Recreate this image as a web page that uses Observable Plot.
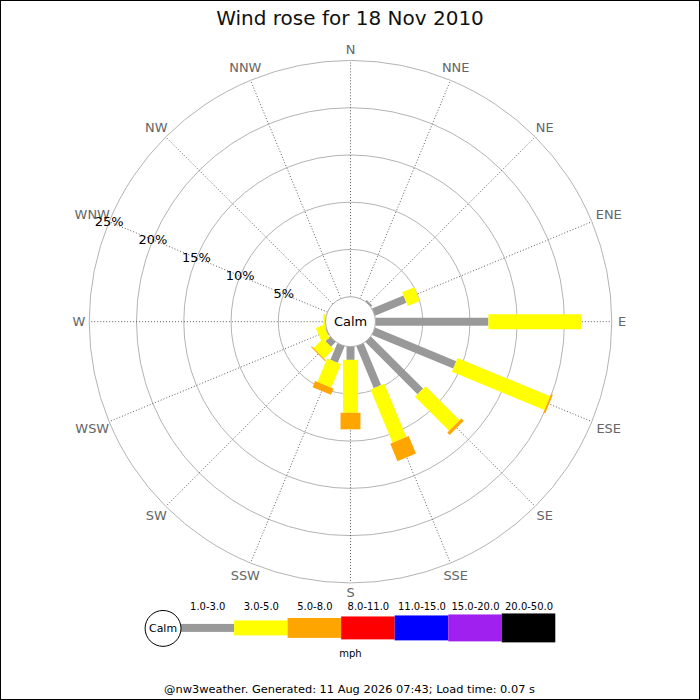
<!DOCTYPE html>
<html>
<head>
<meta charset="utf-8">
<script src="https://cdn.jsdelivr.net/npm/d3@7"></script>
<script src="https://cdn.jsdelivr.net/npm/@observablehq/plot@0.6"></script>
<style>
  body { margin: 0; background: #fff; font-family: "DejaVu Sans", sans-serif; }
  #frame { width: 700px; height: 700px; box-sizing: border-box; border: 1px solid #000; overflow: hidden; }
  #title { height: 33px; line-height: 34px; text-align: center; font-size: 20px; color: #111; }
  svg { display: block; }
</style>
</head>
<body>
<div id="frame">
  <div id="title">Wind rose for 18 Nov 2010</div>
  <div id="chart"></div>
  <div id="legend"></div>
</div>
<script>
// directions, clockwise from north
const dirs = ["N","NNE","NE","ENE","E","ESE","SE","SSE","S","SSW","SW","WSW","W","WNW","NW","NNW"];

// speed bins (mph) and their colours
const bins = ["1.0-3.0","3.0-5.0","5.0-8.0","8.0-11.0","11.0-15.0","15.0-20.0","20.0-50.0"];
const binColors = ["#999999","#ffff00","#ffa500","#ff0000","#0000ff","#a020f0","#000000"];

// % of time per direction, one array per speed bin
const s1to3   = [0, 0, 0.2, 3.6, 11.95, 9.3, 7.8, 4.8, 1.4, 1.9, 0.7, 0.1, 0, 0, 0, 0];
const s3to5   = [0, 0, 0, 1.4, 9.85, 10.6, 5.1, 6.1, 5.6, 2.7, 1.4, 0.9, 0.25, 0, 0, 0];
const s5to8   = [0, 0, 0, 0, 0, 0.2, 0.35, 2.0, 1.75, 0.7, 0.12, 0, 0, 0, 0, 0];
const s8to11  = [0, 0, 0, 0, 0, 0, 0, 0, 0, 0, 0, 0, 0, 0, 0, 0];
const s11to15 = [0, 0, 0, 0, 0, 0, 0, 0, 0, 0, 0, 0, 0, 0, 0, 0];
const s15to20 = [0, 0, 0, 0, 0, 0, 0, 0, 0, 0, 0, 0, 0, 0, 0, 0];
const s20to50 = [0, 0, 0, 0, 0, 0, 0, 0, 0, 0, 0, 0, 0, 0, 0, 0];

// ring labels
const rings = [5, 10, 15, 20, 25];

const series = [s1to3, s3to5, s5to8, s8to11, s11to15, s15to20, s20to50];
const barWidths = [8, 15, 20, 23, 25, 27, 29];

// geometry: pixels per percent, calm circle radius in px
const k = 9.48;
const calmPx = 25;
const C = calmPx / k; // calm radius in % units
const W = 700, H = 568, cy = 288;

const ang = (i) => (i * 22.5) * Math.PI / 180;
const px = (i, r) => r * Math.sin(ang(i));
const py = (i, r) => r * Math.cos(ang(i));
const labelR = (d, i) => C + 26.1 + (d.length - 1) * 0.45 * Math.abs(Math.sin(ang(i)));

// stacked segments
const segs = [];
dirs.forEach((d, i) => {
  let cum = 0;
  series.forEach((s, b) => {
    const v = s[i];
    if (v > 0) segs.push({dir: i, bin: b, r0: C + cum, r1: C + cum + v});
    cum += v;
  });
});

const ringMarks = rings.map((v) =>
  Plot.dot([0], {x: 0, y: 0, r: calmPx + v * k, fill: "none", stroke: "#aaa", strokeWidth: 0.9})
);

const barMarks = series.map((s, b) =>
  Plot.link(segs.filter((d) => d.bin === b), {
    x1: (d) => px(d.dir, d.r0), y1: (d) => py(d.dir, d.r0),
    x2: (d) => px(d.dir, d.r1), y2: (d) => py(d.dir, d.r1),
    stroke: binColors[b], strokeWidth: barWidths[b], strokeLinecap: "butt"
  })
);

const chart = Plot.plot({
  width: W, height: H,
  margin: 0,
  x: {domain: [-W / 2 / k, W / 2 / k], range: [0, W], axis: null},
  y: {domain: [-(H - cy) / k, cy / k], range: [H, 0], axis: null},
  style: {fontFamily: "DejaVu Sans, sans-serif", background: "white"},
  marks: [
    ...ringMarks,
    Plot.link(dirs, {
      x1: (d, i) => px(i, C), y1: (d, i) => py(i, C),
      x2: (d, i) => px(i, C + 25), y2: (d, i) => py(i, C + 25),
      stroke: "#333", strokeWidth: 0.8, strokeDasharray: "1,2"
    }),
    Plot.text(dirs, {
      x: (d, i) => px(i, labelR(d, i)),
      y: (d, i) => py(i, labelR(d, i)),
      text: (d) => d, fill: "#666", fontSize: 13
    }),
    ...barMarks,
    Plot.dot([0], {x: 0, y: 0, r: calmPx, fill: "white", stroke: "#aaa", strokeWidth: 1}),
    Plot.text(["Calm"], {x: 0, y: 0, text: (d) => d, fill: "#000", fontSize: 13}),
    Plot.text(rings, {
      x: (v) => px(13, C + v), y: (v) => py(13, C + v),
      text: (v) => v + "%", fill: "#000", fontSize: 13
    })
  ]
});
d3.select("#chart").append(() => chart);

// legend below the rose
const segW = 53.7, x0 = 180, ly = 28, LH = 97;
const legend = Plot.plot({
  width: W, height: LH,
  margin: 0,
  x: {domain: [0, W], range: [0, W], axis: null},
  y: {domain: [0, LH], range: [0, LH], axis: null},
  style: {fontFamily: "DejaVu Sans, sans-serif", background: "white"},
  marks: [
    Plot.rect(bins, {
      x1: (d, i) => x0 + i * segW, x2: (d, i) => x0 + (i + 1) * segW,
      y1: (d, i) => ly - barWidths[i] / 2, y2: (d, i) => ly + barWidths[i] / 2,
      fill: (d, i) => binColors[i]
    }),
    Plot.text(bins, {
      x: (d, i) => x0 + (i + 0.5) * segW, y: 6.5, text: (d) => d, fill: "#000", fontSize: 10
    }),
    Plot.dot([0], {x: 162, y: ly, r: 18, fill: "white", stroke: "#000", strokeWidth: 1}),
    Plot.text(["Calm"], {x: 162, y: ly, text: (d) => d, fill: "#000", fontSize: 11}),
    Plot.text(["mph"], {x: 350, y: 53, text: (d) => d, fill: "#000", fontSize: 10}),
    Plot.text(["@nw3weather. Generated: 11 Aug 2026 07:43; Load time: 0.07 s"], {
      x: 349, y: 89, text: (d) => d, fill: "#000", fontSize: 11.4
    })
  ]
});
d3.select("#legend").append(() => legend);
</script>
</body>
</html>
